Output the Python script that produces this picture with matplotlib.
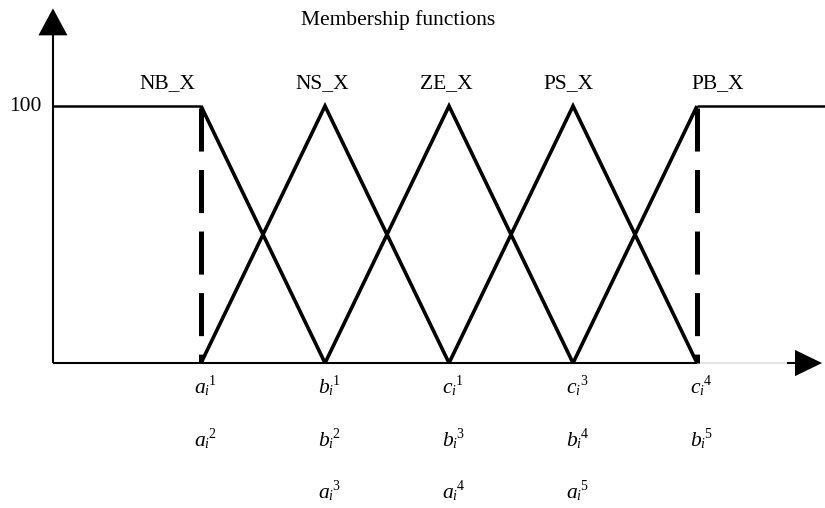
import matplotlib
matplotlib.use("Agg")
import matplotlib.pyplot as plt
from matplotlib.patches import Polygon
from matplotlib.transforms import offset_copy

# ---------------- data ----------------
breakpoints = [1, 2, 3, 4, 5]          # a_i^1, b_i^1, c_i^1, c_i^3, c_i^4
set_names = ["NB_X", "NS_X", "ZE_X", "PS_X", "PB_X"]
set_label_x = [0.73, 1.98, 2.98, 3.96, 5.17]
peak = 100
title = "Membership functions"
y_tick_label = "100"
# (letter, superscript) ; subscript is always "i"
row1 = [("a", "1"), ("b", "1"), ("c", "1"), ("c", "3"), ("c", "4")]
row2 = [("a", "2"), ("b", "2"), ("b", "3"), ("b", "4"), ("b", "5")]
row3 = [None, ("a", "3"), ("a", "4"), ("a", "5"), None]
subscript = "i"

# ---------------- style ----------------
plt.rcParams["font.family"] = ["Liberation Serif", "DejaVu Serif"]
plt.rcParams["lines.scale_dashes"] = False
FS = 15.5
FS_SMALL = 10.0
DPI = 100

fig = plt.figure(figsize=(8.25, 5.08), dpi=DPI)
ax = fig.add_axes([0, 0, 1, 1])
ax.set_axis_off()
X0, X1 = -0.621, 6.032
Y0, Y1 = -56.4, 141.25
ax.set_xlim(X0, X1)
ax.set_ylim(Y0, Y1)

yaxis_x = -0.194
grey_end = 5.726
head_base_x = 5.79
tip_x = 6.008

# axes lines
ax.plot([yaxis_x, yaxis_x], [0, 128], color="black", lw=1.5, solid_capstyle="butt", zorder=2)
ax.plot([yaxis_x, breakpoints[-1]], [0, 0], color="black", lw=1.5, solid_capstyle="butt", zorder=2)
ax.plot([breakpoints[-1], grey_end], [0, 0], color="#e4e4e4", lw=1.5, solid_capstyle="butt", zorder=1)
ax.plot([grey_end, head_base_x], [0, 0], color="black", lw=1.5, solid_capstyle="butt", zorder=2)
# arrow heads
ax.add_patch(Polygon([[head_base_x, -5.1], [head_base_x, 5.1], [tip_x, 0]],
                     closed=True, fc="black", ec="none", zorder=3))
ax.add_patch(Polygon([[yaxis_x - 0.117, 127.5], [yaxis_x + 0.117, 127.5], [yaxis_x, 138.0]],
                     closed=True, fc="black", ec="none", zorder=3))

# membership functions
lw_tri = 2.6
lw_flat = 1.8
ax.plot([yaxis_x, breakpoints[0]], [peak, peak], color="black", lw=lw_flat, solid_capstyle="butt")
ax.plot([breakpoints[0], breakpoints[1]], [peak, 0], color="black", lw=lw_tri,
        solid_joinstyle="miter", solid_capstyle="butt")
for i in range(1, 4):
    ax.plot([breakpoints[i - 1], breakpoints[i], breakpoints[i + 1]], [0, peak, 0],
            color="black", lw=lw_tri, solid_joinstyle="miter", solid_capstyle="butt")
ax.plot([breakpoints[3], breakpoints[4]], [0, peak], color="black", lw=lw_tri,
        solid_joinstyle="miter", solid_capstyle="butt")
ax.plot([breakpoints[4], X1], [peak, peak], color="black", lw=lw_flat, solid_capstyle="butt")

# dashed verticals
for xb in (breakpoints[0], breakpoints[-1]):
    ax.plot([xb, xb], [peak - 0.6, 0], color="black", lw=3.6,
            linestyle=(0, (31, 13.3)), dash_capstyle="butt", zorder=4)

# texts
ax.text(2.593, 133.5, title, ha="center", va="center", fontsize=FS)
for name, lx in zip(set_names, set_label_x):
    ax.text(lx, 108.6, name, ha="center", va="center", fontsize=FS)
ax.text(-0.283, peak, y_tick_label, ha="right", va="center", fontsize=FS)

renderer = fig.canvas.get_renderer()


def text_width_pt(s, size, style):
    t = ax.text(0, 0, s, fontsize=size, style=style)
    w = t.get_window_extent(renderer).width
    t.remove()
    return w * 72.0 / DPI


def label(x, y, letter, sup):
    w1 = text_width_pt(letter, FS, "italic")
    w2 = text_width_pt(subscript, FS_SMALL, "italic")
    w3 = text_width_pt(sup, FS_SMALL, "normal")
    total = w1 + w2 + w3
    start = -total / 2.0
    ax.text(x, y, letter, fontsize=FS, style="italic", ha="left", va="baseline",
            transform=offset_copy(ax.transData, fig=fig, x=start, y=0, units="points"))
    ax.text(x, y, subscript, fontsize=FS_SMALL, style="italic", ha="left", va="baseline",
            transform=offset_copy(ax.transData, fig=fig, x=start + w1 - 0.3, y=-1.5, units="points"))
    ax.text(x, y, sup, fontsize=FS_SMALL, ha="left", va="baseline",
            transform=offset_copy(ax.transData, fig=fig, x=start + w1 + w2, y=5.8, units="points"))


row_y = [-11.7, -32.3, -52.5]
for labels, ry in zip((row1, row2, row3), row_y):
    for xb, lab in zip(breakpoints, labels):
        if lab is None:
            continue
        label(xb + 0.03, ry, lab[0], lab[1])

fig.savefig("out.png", dpi=DPI)
